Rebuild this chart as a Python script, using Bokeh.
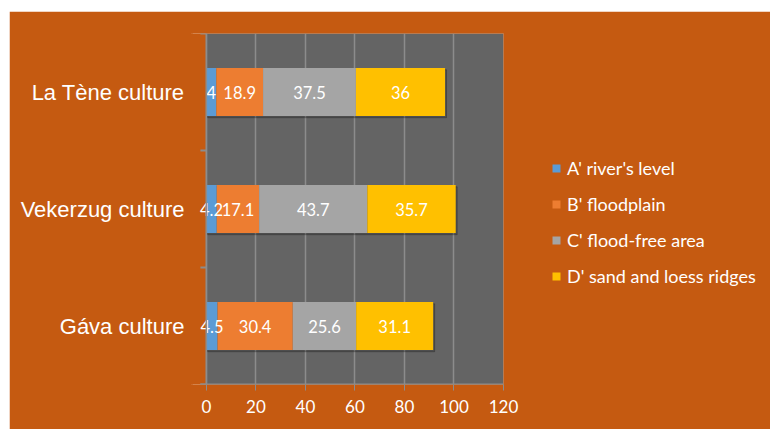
from bokeh.plotting import figure
from bokeh.models import (ColumnDataSource, FixedTicker, Legend, LegendItem, Range1d,
                          BoxAnnotation, Span)
from bokeh.core.properties import value
from bokeh.embed import file_html
from bokeh.resources import INLINE

cultures = ["La Tène culture", "Vekerzug culture", "Gáva culture"]
series = ["A' river's level", "B' floodplain", "C' flood-free area", "D' sand and loess ridges"]
a_river = [4, 4.2, 4.5]
b_flood = [18.9, 17.1, 30.4]
c_free = [37.5, 43.7, 25.6]
d_sand = [36, 35.7, 31.1]
x_ticks = [0, 20, 40, 60, 80, 100, 120]
colors = ["#5B9BD5", "#ED7D31", "#A5A5A5", "#FFC000"]

BG = "#C55A11"
PLOT_BG = "#646464"
AX = "#8C8C8C"
n = len(cultures)
ypos = [n - i - 0.5 for i in range(n)]
vals = [a_river, b_flood, c_free, d_sand]
XMIN = -6

p = figure(width=761, height=418, output_backend="svg", toolbar_location=None,
           x_range=Range1d(XMIN, x_ticks[-1]), y_range=Range1d(0, n),
           frame_width=312, frame_height=351,
           min_border_left=182, min_border_right=267, min_border_top=22, min_border_bottom=45)
p.margin = (11, 0, 0, 9)
p.border_fill_color = BG
p.background_fill_color = BG
p.outline_line_color = None

plot_area = BoxAnnotation(left=0, fill_color=PLOT_BG, fill_alpha=1, line_color=None, level="underlay")
p.center = [plot_area] + list(p.center)

# grid
p.xgrid.ticker = FixedTicker(ticks=x_ticks)
p.xgrid.grid_line_color = AX
p.xgrid.grid_line_width = 1.5
p.ygrid.grid_line_color = None
p.add_layout(Span(location=0, dimension="height", line_color=AX, line_width=1.5))

# axes
p.xaxis.ticker = FixedTicker(ticks=x_ticks)
p.xaxis.axis_line_color = None
p.xaxis.major_tick_line_color = AX
p.xaxis.major_tick_out = 6
p.xaxis.major_tick_in = 0
p.xaxis.minor_tick_line_color = None
p.xaxis.major_label_text_color = "white"
p.xaxis.major_label_text_font = "Lato"
p.xaxis.major_label_text_font_size = "17px"
p.xaxis.major_label_standoff = 9
p.segment(x0=[-2.5], y0=[0], x1=[x_ticks[-1]], y1=[0], line_color=AX, line_width=2)

bounds = list(range(n + 1))
p.segment(x0=[-2.4] * len(bounds), y0=bounds, x1=[0] * len(bounds), y1=bounds,
          line_color=AX, line_width=2)

p.yaxis.ticker = FixedTicker(ticks=ypos)
p.yaxis.major_label_overrides = {y: c for y, c in zip(ypos, cultures)}
p.yaxis.axis_line_color = BG
p.yaxis.axis_line_width = 3
p.yaxis.major_tick_line_color = None
p.yaxis.major_tick_out = 0
p.yaxis.major_tick_in = 0
p.yaxis.minor_tick_line_color = None
p.yaxis.minor_tick_out = 0
p.yaxis.minor_tick_in = 0
p.yaxis.major_label_text_color = "white"
p.yaxis.major_label_text_font = "Liberation Sans"
p.yaxis.major_label_text_font_size = "22px"
p.yaxis.major_label_standoff = 7

# stacked bars
H = 0.41
totals = [sum(v[i] for v in vals) for i in range(n)]
p.hbar(y=[y - 0.015 for y in ypos], left=[0.5] * n, right=[t + 0.6 for t in totals],
       height=H, color="black", alpha=0.22)

left = [0.0] * n
renderers = []
sources = []
for k, (name, v, col) in enumerate(zip(series, vals, colors)):
    right = [l + x for l, x in zip(left, v)]
    src = ColumnDataSource(dict(y=ypos, left=left, right=right,
                                mid=[(l + r) / 2 for l, r in zip(left, right)],
                                lab=[("%g" % x) for x in v]))
    r = p.hbar(y="y", left="left", right="right", height=H, source=src,
               fill_color=col, line_color=None)
    renderers.append((name, r))
    sources.append(src)
    left = right

for src in sources:
    p.text(x="mid", y="y", text="lab", source=src, text_color="white",
           text_font=value("Lato"), text_font_size="16.5px",
           text_align="center", text_baseline="middle")

legend = Legend(items=[LegendItem(label=nm, renderers=[r]) for nm, r in renderers],
                location=(48, 97), orientation="vertical")
legend.background_fill_alpha = 0
legend.border_line_color = None
legend.padding = 0
legend.margin = 0
legend.glyph_width = 10
legend.glyph_height = 10
legend.label_height = 22
legend.spacing = 14
legend.label_standoff = 6
legend.label_text_color = "white"
legend.label_text_font = "Lato"
legend.label_text_font_size = "18px"
p.add_layout(legend, "right")

open("out.html", "w").write(file_html(p, INLINE))
